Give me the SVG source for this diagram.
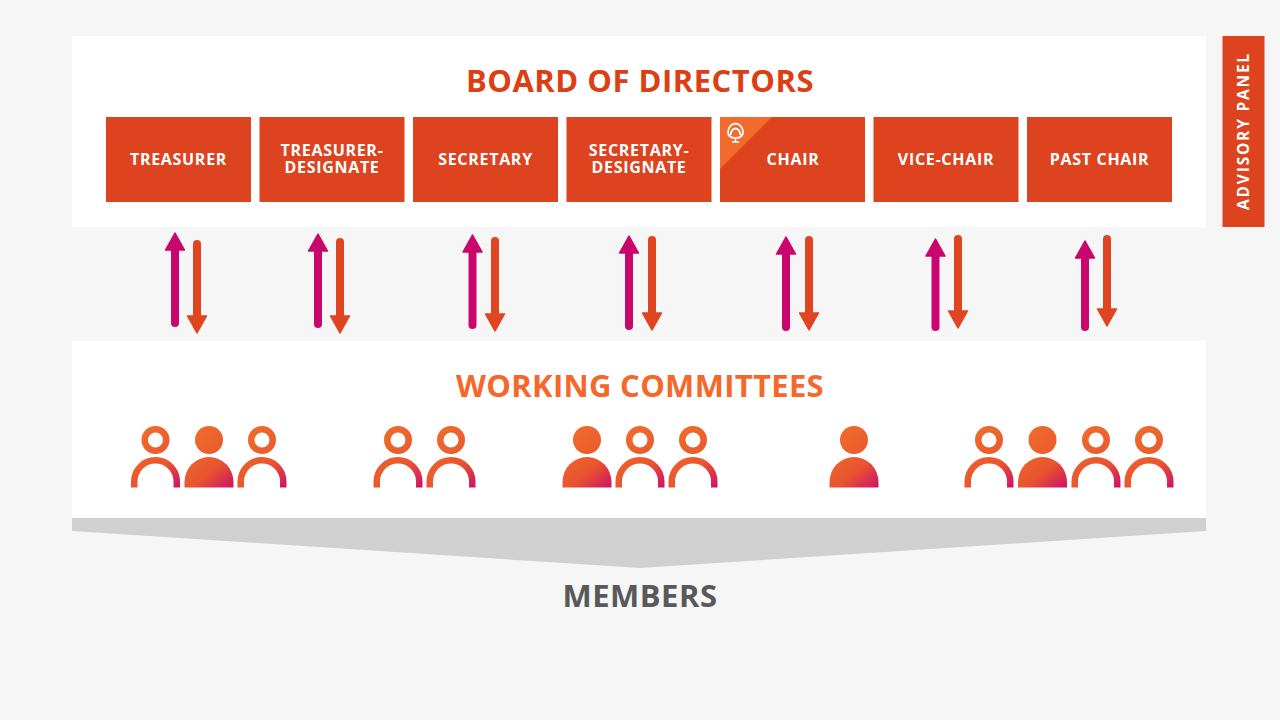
<svg xmlns="http://www.w3.org/2000/svg" width="1280" height="720" viewBox="0 0 1280 720">
<style>
text{font-family:"Open Sans","Noto Sans","Liberation Sans",sans-serif;font-weight:700;text-anchor:middle}
.box{fill:#dc431e}
.lbl{fill:#fff;font-size:16px;letter-spacing:.7px}
.up{stroke:#c9066d;fill:#c9066d}
.dn{stroke:#df4520;fill:#df4520}
.shaft{stroke-width:8;stroke-linecap:round;fill:none}
.head{stroke-width:1.5;stroke-linejoin:round}
</style>
<defs>
<linearGradient id="g" gradientUnits="userSpaceOnUse" x1="-16" y1="-2" x2="26" y2="50">
<stop offset="0" stop-color="#ee692c"/><stop offset=".55" stop-color="#e9552f"/><stop offset="1" stop-color="#cb0a6c"/>
</linearGradient>
<g id="hollow">
<circle cx="0" cy="0" r="10.75" fill="none" stroke="url(#g)" stroke-width="6.500"/>
<path d="M-24.500 47.500V41.500A24.500 24.500 0 0 1 24.500 41.500V47.500H18V41.500A18 18 0 0 0 -18 41.500V47.500Z" fill="url(#g)"/>
</g>
<g id="filled">
<circle cx="0" cy="0" r="14" fill="url(#g)"/>
<path d="M-24.500 47.500V42A24.500 25 0 0 1 24.500 42V47.500Z" fill="url(#g)"/>
</g>
</defs>
<rect width="1280" height="720" fill="#f6f6f6"/>
<g id="board">
<rect x="72" y="36" width="1134" height="191" fill="#fff"/>
<text x="640" y="91.500" font-size="31" letter-spacing=".5" fill="#dc3f14">BOARD OF DIRECTORS</text>
</g>
<g id="treasurer"><rect class="box" x="106" y="117" width="145" height="85"/><text class="lbl" x="178.500" y="164.500">TREASURER</text></g>
<g id="treasurer-designate"><rect class="box" x="259.500" y="117" width="145" height="85"/><text class="lbl" x="332" y="155.500">TREASURER-</text><text class="lbl" x="332" y="172.500">DESIGNATE</text></g>
<g id="secretary"><rect class="box" x="413" y="117" width="145" height="85"/><text class="lbl" x="485.500" y="164.500">SECRETARY</text></g>
<g id="secretary-designate"><rect class="box" x="566.500" y="117" width="145" height="85"/><text class="lbl" x="639" y="155.500">SECRETARY-</text><text class="lbl" x="639" y="172.500">DESIGNATE</text></g>
<g id="chair"><rect class="box" x="720" y="117" width="145" height="85"/>
<path d="M720 117H772L720 169Z" fill="#f26a2c"/>
<g fill="none" stroke="#fff" stroke-linecap="round">
<path stroke-width="1.800" d="M728 132C728 127 732 123.500 735.500 123.500C739 123.500 743 127 743 132C743 136 741 138 735.500 138C730 138 728 136 728 132Z"/>
<path stroke-width="1.800" d="M730.500 134.500C731.500 130 733 128.500 735.500 128.500C738 128.500 739.500 130 740.500 134.500"/>
<path stroke-width="1.500" d="M735.500 138.500V141.500M732.500 142H738.500"/>
</g>
<text class="lbl" x="793" y="164.500">CHAIR</text></g>
<g id="vice-chair"><rect class="box" x="873.500" y="117" width="145" height="85"/><text class="lbl" x="946" y="164.500">VICE-CHAIR</text></g>
<g id="past-chair"><rect class="box" x="1027" y="117" width="145" height="85"/><text class="lbl" x="1099.500" y="164.500">PAST CHAIR</text></g>
<g id="advisory-panel"><rect class="box" x="1222.500" y="36" width="42" height="191"/>
<text transform="translate(1249 131) rotate(-90)" font-size="15.500" letter-spacing="1.800" fill="#fff">ADVISORY PANEL</text></g>
<g id="connectors">
<g class="up"><path class="shaft" d="M175 248V323"/><path class="head" d="M175 233L184.500 250H165.500Z"/></g>
<g class="dn"><path class="shaft" d="M197 244V318"/><path class="head" d="M197 333L206.500 316H187.500Z"/></g>
<g class="up"><path class="shaft" d="M318 249V324"/><path class="head" d="M318 234L327.500 251H308.500Z"/></g>
<g class="dn"><path class="shaft" d="M340 242V318"/><path class="head" d="M340 333L349.500 316H330.500Z"/></g>
<g class="up"><path class="shaft" d="M472.500 250V325"/><path class="head" d="M472.500 235L482 252H463Z"/></g>
<g class="dn"><path class="shaft" d="M495 241V316"/><path class="head" d="M495 331L504.500 314H485.500Z"/></g>
<g class="up"><path class="shaft" d="M629 251V326"/><path class="head" d="M629 236L638.500 253H619.500Z"/></g>
<g class="dn"><path class="shaft" d="M652 240V315"/><path class="head" d="M652 330L661.500 313H642.500Z"/></g>
<g class="up"><path class="shaft" d="M786 252V327"/><path class="head" d="M786 237L795.500 254H776.500Z"/></g>
<g class="dn"><path class="shaft" d="M809 240V315"/><path class="head" d="M809 330L818.500 313H799.500Z"/></g>
<g class="up"><path class="shaft" d="M935.500 254V327"/><path class="head" d="M935.500 239L945 256H926Z"/></g>
<g class="dn"><path class="shaft" d="M958 239V313"/><path class="head" d="M958 328L967.500 311H948.500Z"/></g>
<g class="up"><path class="shaft" d="M1085 256V327"/><path class="head" d="M1085 241L1094.500 258H1075.500Z"/></g>
<g class="dn"><path class="shaft" d="M1107 239V311"/><path class="head" d="M1107 326L1116.500 309H1097.500Z"/></g>
</g>
<g id="working-committees">
<rect x="72" y="341" width="1134" height="177" fill="#fff"/>
<text x="640" y="396.500" font-size="31" letter-spacing=".3" fill="#f5682a">WORKING COMMITTEES</text>
</g>
<g id="committee-1"><use href="#hollow" x="155.500" y="440"/><use href="#filled" x="209" y="440"/><use href="#hollow" x="262" y="440"/></g>
<g id="committee-2"><use href="#hollow" x="398" y="440"/><use href="#hollow" x="451" y="440"/></g>
<g id="committee-3"><use href="#filled" x="587" y="440"/><use href="#hollow" x="640" y="440"/><use href="#hollow" x="693" y="440"/></g>
<g id="committee-4"><use href="#filled" x="854" y="440"/></g>
<g id="committee-5"><use href="#hollow" x="989" y="440"/><use href="#filled" x="1042.500" y="440"/><use href="#hollow" x="1096" y="440"/><use href="#hollow" x="1149" y="440"/></g>
<g id="members">
<path d="M72 518H1206V531L640 568L72 531Z" fill="#d0d0d0"/>
<text x="640" y="606.500" font-size="31" letter-spacing=".5" fill="#58595b">MEMBERS</text>
</g>
</svg>
